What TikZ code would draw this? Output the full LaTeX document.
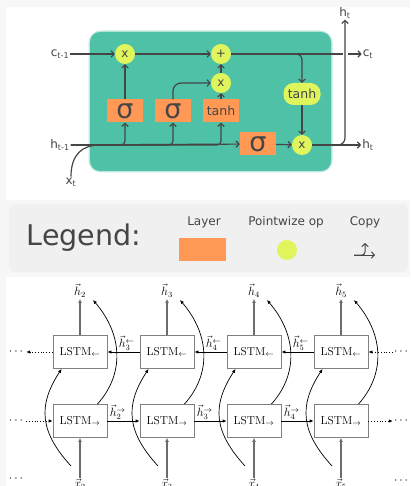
\documentclass[tikz,border=0pt]{standalone}
\usepackage{amsmath}
\usepackage{fontspec}
\usepackage{tikz}
\usetikzlibrary{arrows.meta,positioning}
\usepackage{xcolor}
\newfontfamily\cellfont{DejaVu Sans}
\definecolor{cellgreen}{HTML}{4FC1A6}
\definecolor{layerorange}{HTML}{FF9955}
\definecolor{opyellow}{HTML}{E0F55B}
\definecolor{ink}{HTML}{454545}
\definecolor{pagegray}{HTML}{F7F7F7}
\definecolor{legendgray}{HTML}{F0F0F0}
\newcommand{\bisize}{\fontsize{11.5}{13}\selectfont}

\begin{document}
\begin{tikzpicture}[x=1pt, y=-1pt,
    pwop/.style={circle, fill=opyellow, minimum size=20, inner sep=0, text=ink,
        font=\cellfont\fontsize{12}{12}\selectfont},
    pwgate/.style={rectangle, rounded corners=10pt, fill=opyellow, minimum width=37,
        minimum height=22, inner sep=0, text=ink, font=\cellfont\fontsize{12.5}{13}\selectfont},
    gatebox/.style={rectangle, fill=layerorange, minimum width=36, minimum height=23,
        inner sep=0, text=ink, font=\cellfont\fontsize{12.5}{13}\selectfont},
    sigbox/.style={gatebox, font=\cellfont\fontsize{27}{27}\selectfont},
    wire/.style={draw=ink, line width=1.2pt},
    flow/.style={wire, -{Straight Barb[length=3pt,width=6.5pt]}},
    lab/.style={font=\cellfont\fontsize{12}{13}\selectfont, text=ink, inner sep=1pt},
    lstm/.style={draw=gray, line width=0.8pt, minimum width=54, minimum height=33,
        inner sep=0, font=\bisize},
    vec/.style={font=\bisize, inner sep=1pt},
    link/.style={line width=0.8pt, -{Latex[length=4pt,width=3.5pt]}},
    io/.style={draw=gray!85!black, line width=1.6pt, -{Latex[length=4pt,width=4pt]}},
    dotlink/.style={line width=0.8pt, dotted, -{Latex[length=4pt,width=3.5pt]}},
    loop/.style={line width=0.7pt, -{Latex[length=4pt,width=3.5pt]}},
  ]
    % page and white panels
    \useasboundingbox (0,0) rectangle (410,486);
    \fill[pagegray] (0,0) rectangle (410,486);
    \fill[white] (6,7) rectangle (410,200);
    \fill[white] (6,277) rectangle (410,486);

    % LSTM cell body
    \draw[cellgreen!35, line width=3pt, rounded corners=11pt] (90,32) rectangle (331,171);
    \fill[cellgreen, rounded corners=10pt] (90,32) rectangle (331,171);

    % pointwise ops and layers
    \node[pwop] (mulf) at (125,54) {x};
    \node[pwop] (add) at (221,54) {+};
    \node[pwop] (muli) at (221,83) {x};
    \node[sigbox] (sigf) at (125,111) {σ};
    \node[sigbox] (sigi) at (173,111) {σ};
    \node[gatebox] (tanhc) at (221,111) {tanh};
    \node[sigbox] (sigo) at (258,144) {σ};
    \node[pwgate] (tanhh) at (302,94) {tanh};
    \node[pwop] (mulo) at (302,145) {x};

    % inputs and outputs
    \node[lab] (cin) at (60,54) {c\textsubscript{t-1}};
    \node[lab] (hin) at (60,145) {h\textsubscript{t-1}};
    \node[lab] (xin) at (71,182) {x\textsubscript{t}};
    \node[lab] (cout) at (368,54) {c\textsubscript{t}};
    \node[lab] (hout) at (368,145) {h\textsubscript{t}};
    \node[lab] (htop) at (345,13) {h\textsubscript{t}};
    \coordinate (join) at (100,145);

    % cell state line
    \draw[flow] (cin) -- (mulf);
    \draw[flow] (mulf) -- (add);
    \draw[flow] (add) -- (cout);
    \draw[flow, rounded corners=6pt] ([xshift=-9pt]tanhh.north |- add) -| (tanhh);
    \draw[white, line width=5pt] ([yshift=3pt]htop |- add) -- ([yshift=-3pt]htop |- add);

    % gates
    \draw[flow] (sigf) -- (mulf);
    \draw[flow, rounded corners=8pt] (sigi) |- (muli);
    \draw[flow] (tanhc) -- (muli);
    \draw[flow] (muli) -- (add);

    % hidden state line
    \draw[wire] (xin.north) .. controls +(0,-22) and +(-18,0) .. (join);
    \draw[flow] (hin) -- (sigo);
    \foreach \g in {sigf, sigi, tanhc} {
        \draw[flow, rounded corners=4pt] (hin.east) -| (\g);
    }
    \draw[flow] (sigo) -- (mulo);
    \draw[flow] (tanhh) -- (mulo);
    \draw[flow] (mulo) -- (hout);
    \draw[flow, rounded corners=7pt] (mulo.east) -| (htop);

    % legend
    \fill[legendgray, rounded corners=6pt] (9,204) rectangle (408,272);
    \node[text=ink, font=\cellfont\fontsize{28.5}{30}\selectfont] (legend) at (84,238) {Legend:};
    \node[lab] (laylab) at (204,222) {Layer};
    \node[gatebox, minimum width=47] (laykey) at (202.5,249.5) {};
    \node[lab] (oplab) at (286,222) {Pointwize op};
    \node[pwop] (opkey) at (287,250) {};
    \node[lab] (cpylab) at (365,222) {Copy};
    \coordinate (cpy) at (354,255);
    \draw[flow, line width=1pt, rounded corners=3pt] (cpy) -| ++(11,-12);
    \draw[flow, line width=1pt] (cpy) -- ++(21,0);

    % bidirectional LSTM
    \foreach \i/\x in {2/80, 3/167, 4/254, 5/341} {
        \node[lstm] (bw\i) at (\x,352) {LSTM$_\leftarrow$};
        \node[lstm] (fw\i) at (\x,421) {LSTM$_\rightarrow$};
        \node[vec] (h\i) at (\x,291) {$\vec{h}_\i$};
        \node[vec] (x\i) at (\x,484) {$\vec{x}_\i$};
        \draw[io] (bw\i) -- (h\i);
        \draw[io] (x\i) -- (fw\i);
        \draw[loop] ([shift={(-9,-18)}]x\i.center) .. controls +(-30,-33) and +(-25,38) .. ([xshift=9pt]bw\i.south west);
        \draw[loop] ([xshift=-10pt]fw\i.north east) .. controls +(27,-30) and +(30,35) .. ([shift={(13,9)}]h\i.center);
    }
    \foreach \i/\j in {2/3, 3/4, 4/5} {
        \draw[link] (bw\j) -- node[vec, pos=0.4, above] {$\vec{h}_\j^{\leftarrow}$} (bw\i);
        \draw[link] (fw\i) -- node[vec, pos=0.32, above] {$\vec{h}_\i^{\rightarrow}$} (fw\j);
    }

    % sequence continues on both sides
    \node[vec] (dl1) at (17,352) {$\cdots$};
    \node[vec] (dl2) at (17,421) {$\cdots$};
    \node[vec] (dl3) at (17,479) {$\cdots$};
    \node[vec] (dr1) at (402,352) {$\cdots$};
    \node[vec] (dr2) at (402,421) {$\cdots$};
    \node[vec] (dr3) at (402,481) {$\cdots$};
    \draw[dotlink] (bw2) -- (dl1);
    \draw[dotlink] (dl2) -- (fw2);
    \draw[dotlink] (dr1) -- (bw5);
    \draw[dotlink] (fw5) -- (dr2);
\end{tikzpicture}
\end{document}
